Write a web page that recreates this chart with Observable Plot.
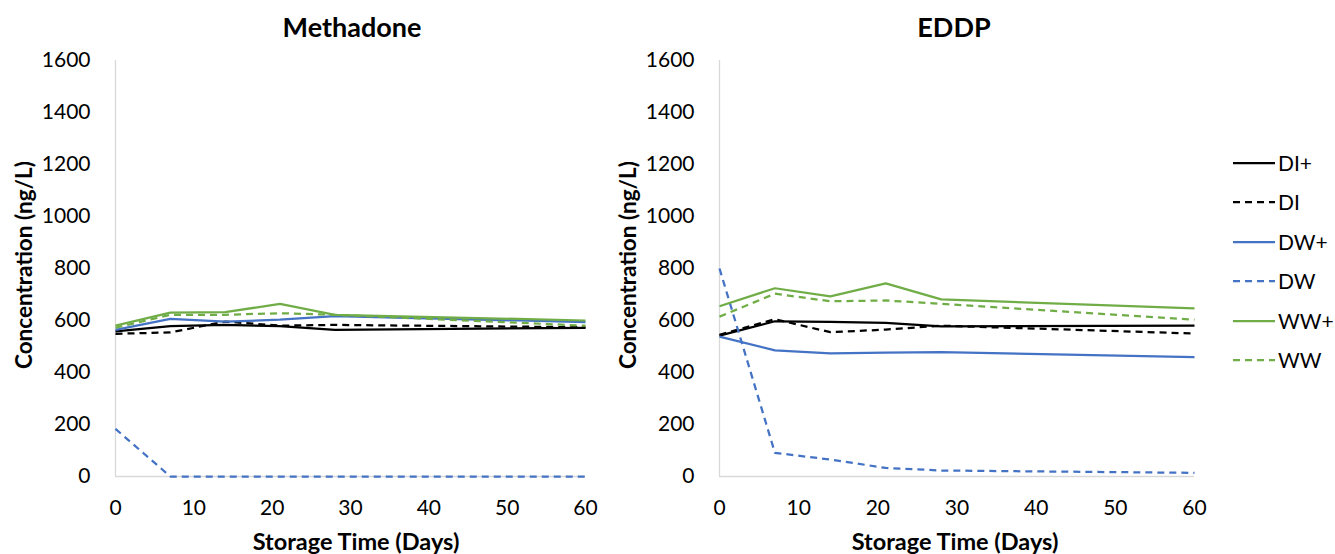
<!DOCTYPE html>
<html>
<head>
<meta charset="utf-8">
<script src="https://cdn.jsdelivr.net/npm/d3@7"></script>
<script src="https://cdn.jsdelivr.net/npm/@observablehq/plot@0.6"></script>
<style>
  html, body { margin: 0; padding: 0; background: #fff; }
  #root { position: relative; width: 1335px; height: 554px; font-family: Lato, "Open Sans", sans-serif; color: #000; overflow: hidden; }
  .abs { position: absolute; }
  .title { font-weight: bold; font-size: 27px; text-align: center; line-height: 22px; }
  .xlab { font-weight: bold; font-size: 23.5px; text-align: center; line-height: 22px; }
  .ylab { font-weight: bold; font-size: 22.5px; line-height: 22px; white-space: nowrap; transform-origin: center center; }
  .leg { font-size: 21px; line-height: 22px; display: flex; align-items: center; }
</style>
</head>
<body>
<div id="root"></div>
<script>
// ---- data ----
const days = [0, 7, 14, 21, 28, 60];
const seriesNames = ["DI+", "DI", "DW+", "DW", "WW+", "WW"];
const seriesColors = ["#000000", "#000000", "#4472C4", "#4472C4", "#70AD47", "#70AD47"];
const seriesDashed = [false, true, false, true, false, true];
const yTicks = [0, 200, 400, 600, 800, 1000, 1200, 1400, 1600];
const xTicks = [0, 10, 20, 30, 40, 50, 60];

// Methadone (ng/L)
const methadoneDIplus = [558, 578, 583, 578, 564, 572];
const methadoneDI     = [549, 554, 596, 580, 583, 574];
const methadoneDWplus = [564, 606, 596, 603, 617, 594];
const methadoneDW     = [183, 0, 0, 0, 0, 0];
const methadoneWWplus = [580, 630, 632, 664, 622, 600];
const methadoneWW     = [572, 622, 622, 628, 622, 580];

// EDDP (ng/L)
const eddpDIplus = [542, 597, 595, 591, 577, 580];
const eddpDI     = [545, 605, 555, 565, 580, 550];
const eddpDWplus = [538, 485, 474, 476, 478, 459];
const eddpDW     = [800, 91, 65, 33, 23, 14];
const eddpWWplus = [655, 724, 693, 743, 681, 647];
const eddpWW     = [615, 703, 674, 677, 664, 603];

const methadoneSeries = [methadoneDIplus, methadoneDI, methadoneDWplus, methadoneDW, methadoneWWplus, methadoneWW];
const eddpSeries = [eddpDIplus, eddpDI, eddpDWplus, eddpDW, eddpWWplus, eddpWW];

const root = document.getElementById("root");

function makeChart(seriesValues, opts) {
  const lineMarks = seriesValues.map((vals, i) => {
    const rows = days.map((d, j) => ({day: d, value: vals[j], series: seriesNames[i]}));
    return Plot.line(rows, {
      x: "day", y: "value",
      stroke: seriesColors[i],
      strokeWidth: 2.25,
      strokeDasharray: seriesDashed[i] ? "7,5" : null,
      strokeLinejoin: "round",
      strokeLinecap: "butt"
    });
  });
  return Plot.plot({
    width: opts.width,
    height: 554,
    marginLeft: opts.marginLeft,
    marginRight: opts.marginRight,
    marginTop: 60,
    marginBottom: 78,
    style: {fontFamily: "Lato, 'Open Sans', sans-serif", fontSize: "21px", color: "#000", background: "transparent", overflow: "visible"},
    x: {domain: [0, 60]},
    y: {domain: [0, 1600]},
    marks: [
      Plot.ruleX([0], {stroke: "#d9d9d9", strokeWidth: 1.3}),
      Plot.ruleY([0], {stroke: "#d9d9d9", strokeWidth: 1.3}),
      Plot.axisY({ticks: yTicks, tickSize: 0, tickPadding: 25, label: null, tickFormat: d3.format("d")}),
      Plot.axisX({ticks: xTicks, tickSize: 0, tickPadding: 24, label: null, tickFormat: d3.format("d")}),
      ...lineMarks
    ]
  });
}

function place(el, left, top) {
  el.style.position = "absolute";
  el.style.left = left + "px";
  el.style.top = top + "px";
  root.appendChild(el);
}

const left = makeChart(methadoneSeries, {width: 620, marginLeft: 115, marginRight: 35});
place(left, 0, 0);
const right = makeChart(eddpSeries, {width: 600, marginLeft: 99, marginRight: 26});
place(right, 620, 0);

function addText(cls, text, cx, cy, w, rotate) {
  const d = document.createElement("div");
  d.className = "abs " + cls;
  d.textContent = text;
  d.style.width = w + "px";
  d.style.textAlign = "center";
  d.style.left = (cx - w / 2) + "px";
  d.style.top = (cy - 11) + "px";
  if (rotate) d.style.transform = "rotate(-90deg)";
  root.appendChild(d);
}

addText("title", "Methadone", 352, 27, 300);
addText("title", "EDDP", 954, 27, 300);
addText("xlab", "Storage Time (Days)", 356, 541, 320);
addText("xlab", "Storage Time (Days)", 955, 541, 320);
addText("ylab", "Concentration (ng/L)", 24, 265, 280, true);
addText("ylab", "Concentration (ng/L)", 628, 265, 280, true);

// legend
const legendY = [163, 202, 242, 281, 321, 360];
seriesNames.forEach((name, i) => {
  const row = document.createElement("div");
  row.className = "abs leg";
  row.style.left = "1233px";
  row.style.top = (legendY[i] - 11) + "px";
  const svg = d3.create("svg").attr("width", 43).attr("height", 22);
  svg.append("line").attr("x1", 0).attr("x2", 42).attr("y1", 11).attr("y2", 11)
    .attr("stroke", seriesColors[i]).attr("stroke-width", 2.25)
    .attr("stroke-dasharray", seriesDashed[i] ? "7,5" : null);
  row.appendChild(svg.node());
  const t = document.createElement("span");
  t.textContent = name;
  t.style.marginLeft = "2px";
  row.appendChild(t);
  root.appendChild(row);
});
</script>
</body>
</html>
